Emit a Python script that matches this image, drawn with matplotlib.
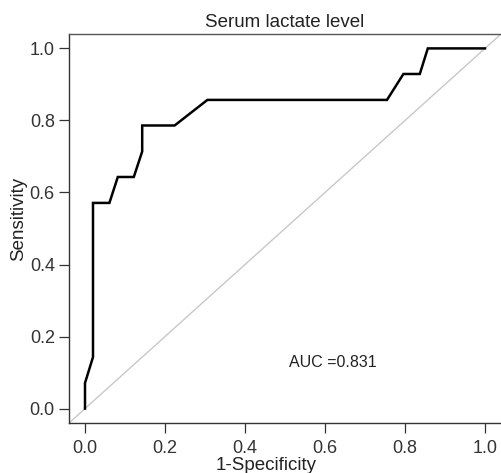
import matplotlib.pyplot as plt
from matplotlib import rcParams

rcParams["font.family"] = ["Liberation Sans", "DejaVu Sans"]

# ROC curve vertices
fpr = [0.0, 0.0, 0.020, 0.020, 0.061, 0.082, 0.122, 0.143, 0.143, 0.224, 0.306, 0.755, 0.796, 0.837, 0.857, 1.0]
tpr = [0.0, 0.071, 0.143, 0.571, 0.571, 0.643, 0.643, 0.714, 0.786, 0.786, 0.857, 0.857, 0.929, 0.929, 1.0, 1.0]
ticks = [0.0, 0.2, 0.4, 0.6, 0.8, 1.0]
tick_labels = ["0.0", "0.2", "0.4", "0.6", "0.8", "1.0"]
auc_text = "AUC =0.831"

fig = plt.figure(figsize=(5.01, 4.73), dpi=100)
ax = fig.add_axes([69 / 501, 1 - 423 / 473, 432 / 501, (423 - 34) / 473])

ax.plot([-0.04, 1.04], [-0.04, 1.04], color="#c8c8c8", lw=1.0)
ax.plot(fpr, tpr, color="black", lw=1.8, solid_joinstyle="miter")

ax.set_xlim(-0.04, 1.04)
ax.set_ylim(-0.04, 1.04)
ax.set_xticks(ticks)
ax.set_xticklabels(tick_labels)
ax.set_yticks(ticks)
ax.set_yticklabels(tick_labels)
ax.tick_params(axis="both", direction="out", length=7.2, width=0.9, colors="#333333", labelsize=13)
ax.tick_params(axis="x", pad=5)
ax.tick_params(axis="y", pad=3)

ax.spines["right"].set_visible(False)
ax.spines["left"].set_color("#333333")
ax.spines["bottom"].set_color("#333333")
ax.spines["top"].set_color("#555555")
for s in ["left", "bottom", "top"]:
    ax.spines[s].set_linewidth(1.0)

ax.text(0.51, 0.127, auc_text, fontsize=11.5, color="#222222", ha="left", va="center")

ax.set_title("Serum lactate level", fontsize=13.5, color="#222222", pad=5)
fig.text(266.5 / 501, 1 - 465 / 473, "1-Specificity", fontsize=13.5, color="#222222", ha="center", va="center")
fig.text(19 / 501, 1 - 219 / 473, "Sensitivity", fontsize=13.5, color="#222222", ha="center", va="center", rotation=90)

fig.savefig("out.png", dpi=100)
